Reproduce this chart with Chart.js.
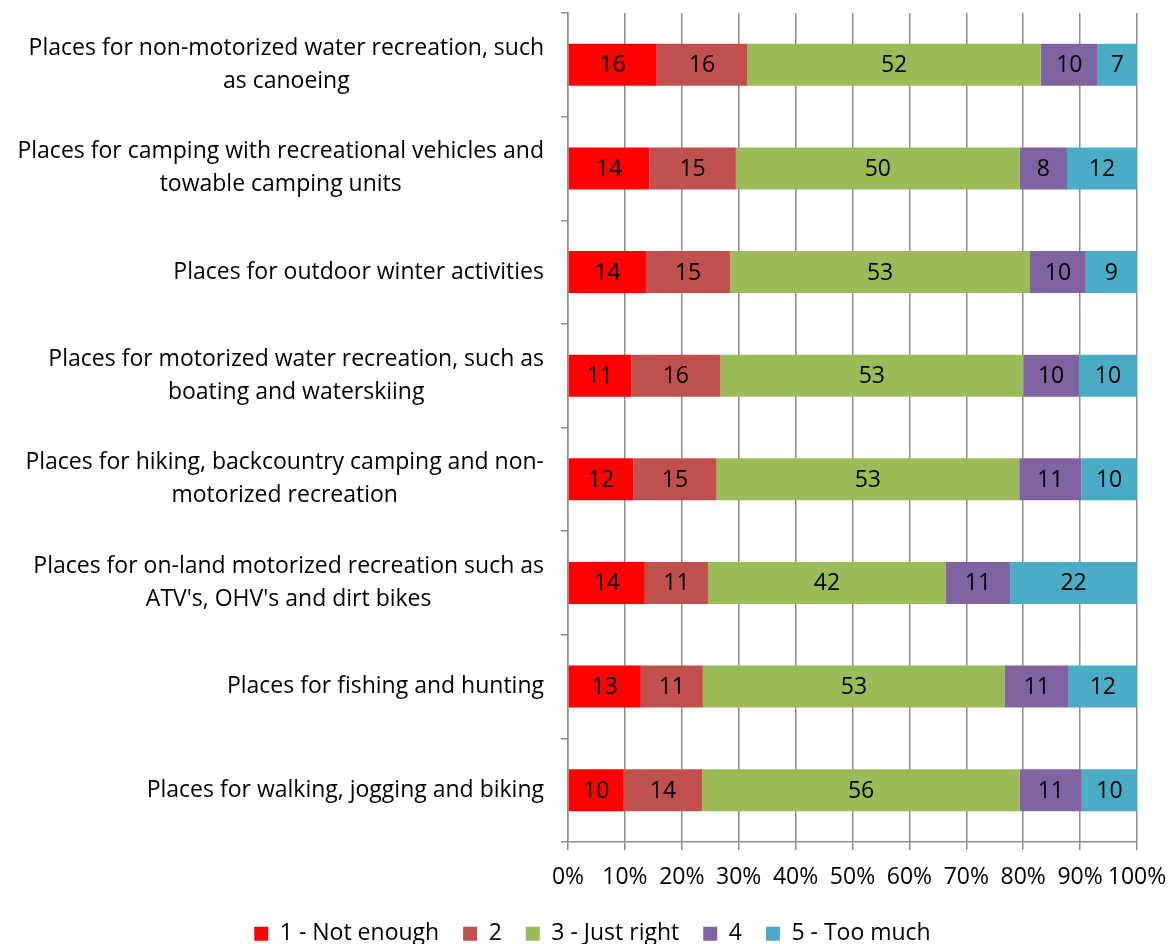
<!DOCTYPE html>
<html>
<head>
<meta charset="utf-8">
<script src="https://cdn.jsdelivr.net/npm/chart.js@4.4.1/dist/chart.umd.min.js"></script>
<style>
  html, body { margin: 0; padding: 0; background: #fff; }
  #wrap { width: 1172px; height: 944px; }
</style>
</head>
<body>
<div id="wrap"><canvas id="chart"></canvas></div>
<script>
// categories, top to bottom (each one is an array of lines)
const categories = [
  ['Places for non-motorized water recreation, such', 'as canoeing'],
  ['Places for camping with recreational vehicles and', 'towable camping units'],
  ['Places for outdoor winter activities'],
  ['Places for motorized water recreation, such as', 'boating and waterskiing'],
  ['Places for hiking, backcountry camping and non-', 'motorized recreation'],
  ['Places for on-land motorized recreation such as', "ATV's, OHV's and dirt bikes"],
  ['Places for fishing and hunting'],
  ['Places for walking, jogging and biking']
];

const seriesNames = ['1 - Not enough', '2', '3 - Just right', '4', '5 - Too much'];
const seriesColors = ['#FF0000', '#C0504D', '#9BBB59', '#8064A2', '#4BACC6'];

// percentages per series, one value per category
const notEnough = [15.6, 14.3, 13.7, 11.1, 11.5, 13.5, 12.8, 9.8];
const two       = [15.9, 15.2, 14.8, 15.7, 14.6, 11.1, 10.9, 13.8];
const justRight = [51.6, 49.9, 52.7, 53.2, 53.2, 41.8, 53.1, 55.8];
const four      = [10.0, 8.3,  9.8,  9.8,  10.9, 11.3, 11.2, 10.9];
const tooMuch   = [6.9,  12.3, 9.0,  10.2, 9.8,  22.3, 12.0, 9.7];

const xTicks = [0, 10, 20, 30, 40, 50, 60, 70, 80, 90, 100];

const FONT = 'Open Sans';
const FSIZE = 23;
const gridGray = '#8C8C8C';
const PLOT_BOTTOM = 842;
const LEGEND_CENTER = 936;
const LEGEND_SHIFT_X = 24;

const seriesData = [notEnough, two, justRight, four, tooMuch];

// value labels inside each segment
const valueLabels = {
  id: 'valueLabels',
  afterDatasetsDraw(chart) {
    const ctx = chart.ctx;
    ctx.save();
    ctx.font = FSIZE + 'px "' + FONT + '"';
    ctx.fillStyle = '#000';
    ctx.textAlign = 'center';
    ctx.textBaseline = 'middle';
    chart.data.datasets.forEach((ds, i) => {
      const meta = chart.getDatasetMeta(i);
      meta.data.forEach((bar, j) => {
        ctx.fillText(String(Math.round(ds.data[j])), (bar.x + bar.base) / 2, bar.y + 1);
      });
    });
    ctx.restore();
  }
};

// category labels: block right aligned, lines centered inside the block
const categoryLabels = {
  id: 'categoryLabels',
  afterDraw(chart) {
    const ctx = chart.ctx;
    const y = chart.scales.y;
    ctx.save();
    ctx.font = FSIZE + 'px "' + FONT + '"';
    ctx.fillStyle = '#000';
    ctx.textAlign = 'center';
    ctx.textBaseline = 'middle';
    const right = y.right - 24;
    const lineH = 33;
    categories.forEach((lines, i) => {
      const cy = y.getPixelForValue(i);
      const w = Math.max(...lines.map(l => ctx.measureText(l).width));
      const cx = right - w / 2;
      const top = cy - (lines.length - 1) * lineH / 2;
      lines.forEach((l, k) => ctx.fillText(l, cx, top + k * lineH));
    });
    ctx.restore();
  }
};

// move the legend row to where the reference has it
const legendShift = {
  id: 'legendShift',
  afterLayout(chart) {
    const lg = chart.legend;
    if (!lg) return;
    const itemCenter = lg.top + lg.options.labels.padding + (FSIZE * 1.2) / 2;
    const d = LEGEND_CENTER - itemCenter;
    lg.top += d;
    lg.bottom += d;
    lg.left += LEGEND_SHIFT_X;
    lg.right += LEGEND_SHIFT_X;
  }
};

new Chart(document.getElementById('chart'), {
  type: 'bar',
  data: {
    labels: categories.map(c => c.join(' ')),
    datasets: seriesNames.map((name, i) => ({
      label: name,
      data: seriesData[i],
      backgroundColor: seriesColors[i],
      borderWidth: 0,
      barPercentage: 0.405,
      categoryPercentage: 1
    }))
  },
  options: {
    indexAxis: 'y',
    responsive: true,
    maintainAspectRatio: false,
    animation: false,
    layout: { padding: { top: 13, right: 35, bottom: 0, left: 0 } },
    scales: {
      x: {
        stacked: true,
        min: 0,
        max: 100,
        afterBuildTicks: s => { s.ticks = xTicks.map(v => ({ value: v })); },
        afterFit: s => {
          const lh = s.chart.legend ? s.chart.legend.height : 0;
          s.height = s.chart.height - PLOT_BOTTOM - lh;
          s.paddingLeft = 0;
          s.paddingRight = 0;
        },
        ticks: {
          callback: v => v + '%',
          font: { family: FONT, size: FSIZE },
          color: '#000',
          padding: 14,
          maxRotation: 0,
          autoSkip: false
        },
        grid: { color: gridGray, lineWidth: 1.5, tickLength: 8 },
        border: { color: gridGray, width: 1.5 }
      },
      y: {
        stacked: true,
        afterFit: s => { s.width = 568; },
        ticks: { display: false },
        grid: { offset: true, drawOnChartArea: false, color: gridGray, lineWidth: 1.5, tickLength: 7 },
        border: { color: gridGray, width: 1.5 }
      }
    },
    plugins: {
      legend: {
        position: 'bottom',
        labels: {
          font: { family: FONT, size: FSIZE },
          color: '#000',
          boxWidth: 14,
          boxHeight: 14,
          padding: 24
        }
      },
      tooltip: { enabled: false }
    }
  },
  plugins: [valueLabels, categoryLabels, legendShift]
});
</script>
</body>
</html>
